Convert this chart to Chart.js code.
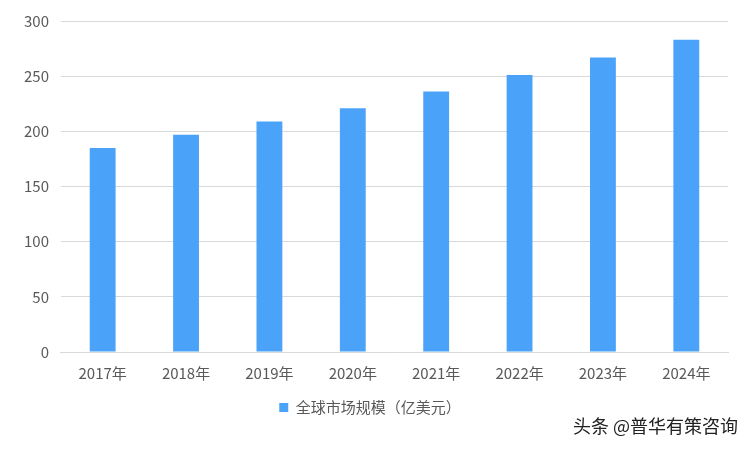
<!DOCTYPE html>
<html><head><meta charset="utf-8">
<script src="https://cdn.jsdelivr.net/npm/chart.js@4"></script>
<style>html,body{margin:0;padding:0;background:#fff}#w{position:relative;width:752px;height:452px}
#wm{position:absolute;right:14px;bottom:14px;font:18px "Noto Sans CJK SC";color:#222}</style>
</head><body><div id="w"><canvas id="c" width="752" height="452"></canvas><div id="wm">头条 @普华有策咨询</div></div>
<script>
const categories=["2017年","2018年","2019年","2020年","2021年","2022年","2023年","2024年"];
const values=[185,197,209,221,236,251,267,283];
const seriesName="全球市场规模（亿美元）";
new Chart(document.getElementById('c'),{type:'bar',
data:{labels:categories,datasets:[{label:seriesName,data:values,backgroundColor:'#4BA3F9',categoryPercentage:1,barPercentage:0.31}]},
options:{responsive:false,animation:false,
layout:{padding:{left:12,right:24,top:20,bottom:27}},
plugins:{legend:{position:'bottom',labels:{boxWidth:9,boxHeight:9,color:'#595959',font:{size:15,family:'Noto Sans CJK SC'},padding:14}},tooltip:{enabled:false}},
scales:{x:{grid:{display:false},border:{color:'#d9d9d9'},ticks:{color:'#595959',font:{size:15,family:'Noto Sans CJK SC'},padding:4}},
y:{min:0,max:300,ticks:{stepSize:50,color:'#595959',font:{size:15,family:'Noto Sans CJK SC'},padding:12},grid:{color:'#d9d9d9',drawTicks:false},border:{display:false}}}}});
</script></body></html>
